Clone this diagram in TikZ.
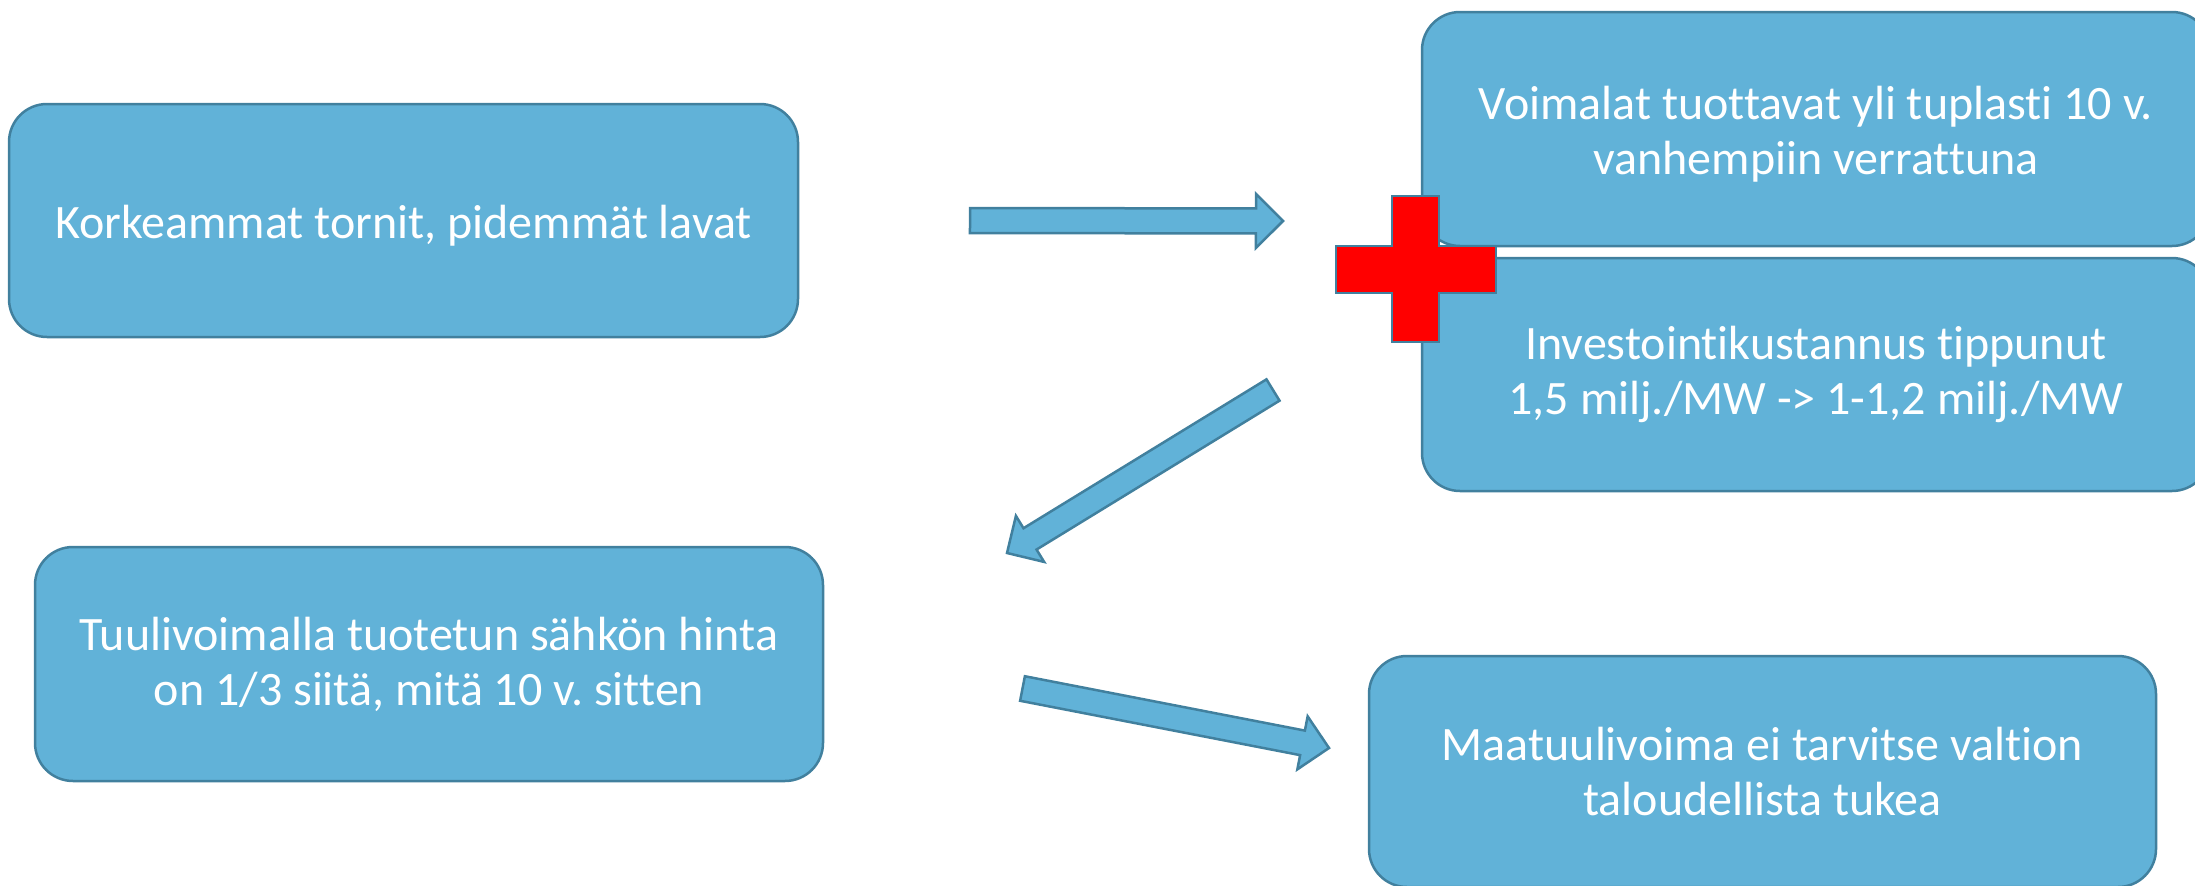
\documentclass[tikz,border=0pt]{standalone}
\usepackage{fontspec}
\setmainfont{Carlito}[Ligatures={NoCommon}]
\usetikzlibrary{calc}
\frenchspacing
\definecolor{boxfill}{RGB}{97,178,216}
\definecolor{boxline}{RGB}{65,128,158}
\tikzset{
  box/.style={draw=boxline, fill=boxfill, line width=2.5pt, rounded corners=38pt,
    text=white, align=center, inner sep=0pt, font=\fontsize{48}{55}\selectfont},
  arrowshape/.style={draw=boxline, fill=boxfill, line width=2.5pt, line join=miter},
  plusshape/.style={draw=boxline, fill=red, line width=2.5pt}
}
\newcommand\myblockarrow[2]{%
  \coordinate (hb) at ($(#2)!27pt!(#1)$);
  \draw[arrowshape] ($(#1)!12.5pt!90:(#2)$) -- ($(hb)!12.5pt!90:(#2)$) -- ($(hb)!27pt!90:(#2)$) -- (#2)
    -- ($(hb)!27pt!-90:(#2)$) -- ($(hb)!12.5pt!-90:(#2)$) -- ($(#1)!12.5pt!-90:(#2)$) -- cycle;}
\begin{document}
\begin{tikzpicture}[x=1pt,y=-1pt]
\useasboundingbox (0,0) rectangle (2195,886);
\node[box, minimum width=789pt, minimum height=233pt] (korkea) at (403.5,220.5) {\raisebox{-5pt}[\height][\depth]{Korkeammat tornit, pidemmät lavat}};
\node[box, minimum width=788pt, minimum height=234pt] (voimalat) at (1816,129) {\raisebox{-7pt}[\height][\depth]{\begin{tabular}{@{}c@{}}Voimalat tuottavat yli tuplasti 10 v.\\vanhempiin verrattuna\end{tabular}}};
\node[box, minimum width=788pt, minimum height=233pt] (invest) at (1816,374.5) {Investointikustannus tippunut\\1,5 milj./MW -> 1-1,2 milj./MW};
\node[box, minimum width=788pt, minimum height=234pt] (hinta) at (429,664) {Tuulivoimalla tuotetun sähkön hinta\\on 1/3 siitä, mitä 10 v. sitten};
\node[box, minimum width=787pt, minimum height=231pt] (maa) at (1762.5,771.5) {Maatuulivoima ei tarvitse valtion\\taloudellista tukea};
% plus sign
\draw[plusshape] (1392,196) -- (1439,196) -- (1439,246) -- (1496,246) -- (1496,293) -- (1439,293)
  -- (1439,342) -- (1392,342) -- (1392,293) -- (1336,293) -- (1336,246) -- (1392,246) -- cycle;
% block arrows
\coordinate (a1t) at (970,220.5);
\coordinate (a1h) at (1283,221);
\coordinate (a2t) at (1273,390);
\coordinate (a2h) at (1007,553);
\coordinate (a3t) at (1022.5,688.5);
\coordinate (a3h) at (1329,748);
\myblockarrow{a1t}{a1h}
\myblockarrow{a2t}{a2h}
\myblockarrow{a3t}{a3h}
\end{tikzpicture}
\end{document}
